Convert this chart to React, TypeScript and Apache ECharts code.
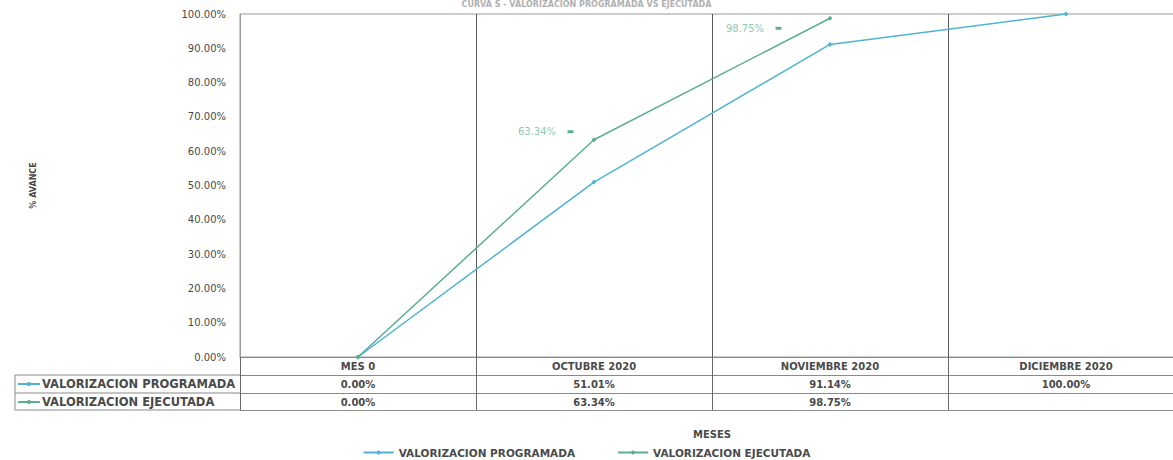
import React, { useEffect, useRef } from "react";
import * as echarts from "echarts";

const categories = ["MES 0", "OCTUBRE 2020", "NOVIEMBRE 2020", "DICIEMBRE 2020"];
const programada: (number | null)[] = [0, 51.01, 91.14, 100];
const ejecutada: (number | null)[] = [0, 63.34, 98.75, null];
const seriesNames = ["VALORIZACION PROGRAMADA", "VALORIZACION EJECUTADA"];
const labelledEjecutada = [1, 2];
const titleText = "CURVA S - VALORIZACION PROGRAMADA VS EJECUTADA";
const yAxisName = "% AVANCE";
const xAxisName = "MESES";

const BLUE = "#4fb4d2";
const GREEN = "#5aae94";
const TEXT = "#4a4a4a";
const FONT = "DejaVu Sans";

const fmt = (v: number | null) => (v === null || v === undefined ? "" : v.toFixed(2) + "%");

// label placement (style only) for the labelled executed points
const labelPlacement: Record<number, { distance: number; offset: number[] }> = {
  1: { distance: 18, offset: [0, -8] },
  2: { distance: 46, offset: [0, 10] },
};

export default function App() {
  const ref = useRef<HTMLDivElement>(null);
  useEffect(() => {
    document.body.style.margin = "0";
    const chart = echarts.init(ref.current!, null, { renderer: "svg" });
    const tableAxis = (offset: number, values: (number | null)[] | null, extra: any = {}) => ({
      type: "category",
      data: categories,
      position: "bottom",
      offset,
      boundaryGap: true,
      axisLine: { show: true, lineStyle: { color: "#8a8a8a", width: 1 } },
      axisTick: { show: false },
      splitLine: { show: false },
      axisLabel: {
        show: values !== null,
        interval: 0,
        margin: 4,
        color: TEXT,
        fontFamily: FONT,
        fontWeight: "bold",
        fontSize: 10,
        formatter: (_v: string, i: number) => (values ? fmt(values[i]) : ""),
      },
      ...extra,
    });
    const keyY = [384, 402];
    const keyColors = [BLUE, GREEN];
    const graphics: any[] = [
      { type: "text", left: "center", top: 0, style: { text: titleText, fill: "#b0b0b0", font: `bold 8px ${FONT}` } },
      { type: "line", shape: { x1: 15, y1: 375, x2: 240, y2: 375 }, style: { stroke: "#8a8a8a", lineWidth: 1 } },
      { type: "line", shape: { x1: 15, y1: 393, x2: 240, y2: 393 }, style: { stroke: "#8a8a8a", lineWidth: 1 } },
      { type: "line", shape: { x1: 15, y1: 410, x2: 240, y2: 410 }, style: { stroke: "#8a8a8a", lineWidth: 1 } },
      { type: "line", shape: { x1: 15, y1: 375, x2: 15, y2: 410 }, style: { stroke: "#8a8a8a", lineWidth: 1 } },
    ];
    seriesNames.forEach((name, i) => {
      graphics.push({ type: "line", shape: { x1: 18, y1: keyY[i], x2: 40, y2: keyY[i] }, style: { stroke: keyColors[i], lineWidth: 2 } });
      graphics.push({ type: "circle", shape: { cx: 29, cy: keyY[i], r: 2 }, style: { fill: keyColors[i] } });
      graphics.push({
        type: "text",
        x: 42,
        y: keyY[i],
        style: { text: name, fill: TEXT, font: `bold 11.5px ${FONT}`, verticalAlign: "middle", align: "left" },
      });
    });
    chart.setOption({
      animation: false,
      textStyle: { fontFamily: FONT },
      grid: {
        left: 240,
        right: -11,
        top: 14,
        bottom: 103,
        outerBoundsMode: "none",
        show: true,
        borderColor: "#9a9a9a",
        borderWidth: 1,
        containLabel: false,
      },
      legend: {
        bottom: -3,
        left: "center",
        itemWidth: 30,
        itemHeight: 6,
        itemGap: 42,
        textStyle: { color: TEXT, fontFamily: FONT, fontWeight: "bold", fontSize: 10.5 },
        data: seriesNames,
      },
      xAxis: [
        {
          type: "category",
          data: categories,
          position: "bottom",
          boundaryGap: true,
          axisLine: { show: true, lineStyle: { color: "#8a8a8a" } },
          axisTick: { show: true, length: 53, lineStyle: { color: "#6a6a6a" } },
          splitLine: { show: true, lineStyle: { color: "#5a5a5a", width: 1 } },
          axisLabel: { interval: 0, margin: 4, color: TEXT, fontFamily: FONT, fontWeight: "bold", fontSize: 10 },
        },
        tableAxis(18, programada),
        tableAxis(36, ejecutada),
        tableAxis(53, null, {
          name: xAxisName,
          nameLocation: "middle",
          nameGap: 19,
          nameTextStyle: { color: TEXT, fontFamily: FONT, fontWeight: "bold", fontSize: 10 },
        }),
      ],
      yAxis: {
        type: "value",
        min: 0,
        max: 100,
        interval: 10,
        name: yAxisName,
        nameLocation: "middle",
        nameGap: 203,
        nameRotate: 90,
        nameTextStyle: { color: TEXT, fontFamily: FONT, fontWeight: "bold", fontSize: 8 },
        axisLine: { show: true, lineStyle: { color: "#9a9a9a" } },
        axisTick: { show: false },
        splitLine: { show: false },
        axisLabel: { margin: 14, color: TEXT, fontFamily: FONT, fontSize: 10, formatter: (v: number) => v.toFixed(2) + "%" },
      },
      series: [
        {
          name: seriesNames[0],
          type: "line",
          data: programada,
          symbol: "diamond",
          symbolSize: 5,
          lineStyle: { color: BLUE, width: 1.5 },
          itemStyle: { color: BLUE },
        },
        {
          name: seriesNames[1],
          type: "line",
          data: ejecutada.map((v, i) =>
            labelledEjecutada.includes(i)
              ? {
                  value: v,
                  label: {
                    show: true,
                    position: "left",
                    distance: labelPlacement[i].distance,
                    offset: labelPlacement[i].offset,
                    formatter: (p: any) => `{v|${fmt(p.value)}}   {k|}`,
                    rich: {
                      v: { color: "#8ccbb2", fontSize: 10, fontFamily: FONT },
                      k: { backgroundColor: GREEN, width: 6, height: 3 },
                    },
                  },
                }
              : v
          ),
          symbol: "diamond",
          symbolSize: 5,
          lineStyle: { color: GREEN, width: 1.5 },
          itemStyle: { color: GREEN },
        },
      ],
      graphic: graphics,
    });
    return () => chart.dispose();
  }, []);
  return <div ref={ref} style={{ width: 1173, height: 460 }} />;
}
